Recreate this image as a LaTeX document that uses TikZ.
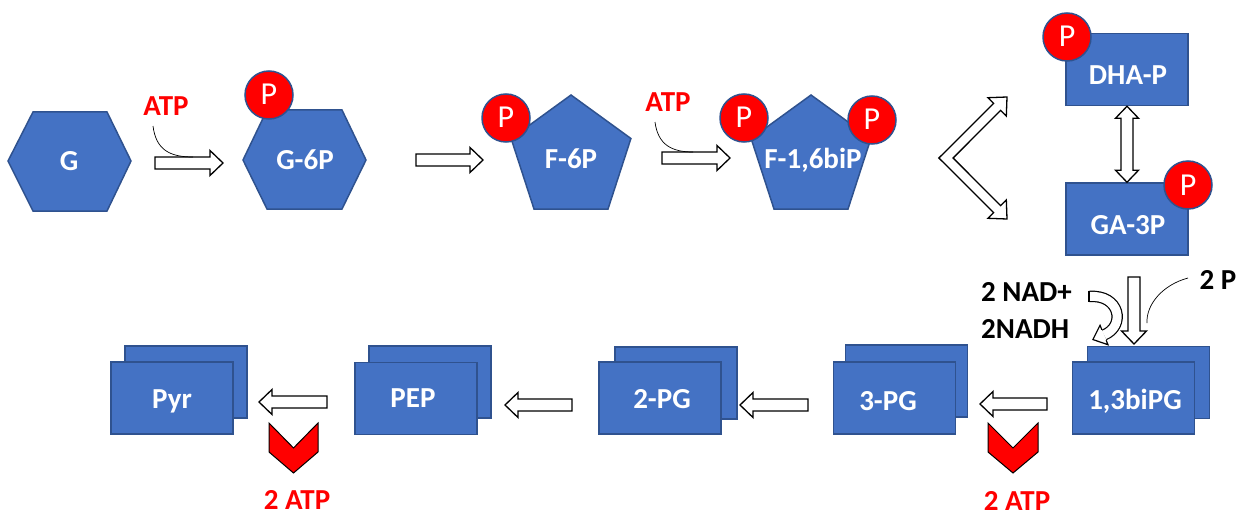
\documentclass[tikz,border=0pt]{standalone}
\usepackage{fontspec}
\setmainfont{Carlito}
\usetikzlibrary{calc,shapes.geometric}
\definecolor{molblue}{HTML}{4472C4}
\definecolor{moledge}{HTML}{2F528F}
\definecolor{pred}{HTML}{FF0000}
\newcommand{\blockarrow}[2]{%
  \coordinate (ba-c) at ($(#2)!13pt!(#1)$);
  \draw[barrow] ($(#1)!6pt!90:(#2)$) -- ($(ba-c)!6pt!90:(#2)$) -- ($(ba-c)!12.5pt!90:(#2)$) -- (#2)
    -- ($(ba-c)!12.5pt!-90:(#2)$) -- ($(ba-c)!6pt!-90:(#2)$) -- ($(#1)!6pt!-90:(#2)$) -- cycle;}
\newcommand{\dblarrow}[2]{%
  \coordinate (da-a) at ($(#1)!12pt!(#2)$);
  \coordinate (da-b) at ($(#2)!12pt!(#1)$);
  \draw[barrow] (#1) -- ($(da-a)!11.5pt!90:(#2)$) -- ($(da-a)!6pt!90:(#2)$) -- ($(da-b)!6pt!90:(#2)$)
    -- ($(da-b)!11.5pt!90:(#2)$) -- (#2) -- ($(da-b)!11.5pt!-90:(#2)$) -- ($(da-b)!6pt!-90:(#2)$)
    -- ($(da-a)!6pt!-90:(#2)$) -- ($(da-a)!11.5pt!-90:(#2)$) -- cycle;}
\begin{document}
\begin{tikzpicture}[x=1pt,y=-1pt,
  mol/.style={fill=molblue,draw=moledge,line width=1.5pt},
  lbl/.style={text=white,font=\fontsize{29}{35}\selectfont\bfseries,inner sep=0pt,text height=18.5pt,text depth=0pt},
  redlbl/.style={lbl,text=pred},
  blklbl/.style={lbl,text=black},
  box/.style={mol,rectangle,minimum width=122pt,minimum height=72pt,inner sep=0pt},
  phos/.style={circle,fill=pred,draw=moledge,line width=1.5pt,minimum size=48pt,inner sep=0pt,
    text=white,font=\fontsize{32}{38}\selectfont,text height=20pt,text depth=0pt},
  barrow/.style={draw=black,fill=white,line width=1.3pt,line join=miter},
  chev/.style={draw=black,fill=pred,line width=1pt,line join=miter},
  hair/.style={draw=black,line width=0.7pt}]
\useasboundingbox (0,0) rectangle (1244,516);

% ---- top row molecules
\draw[mol] (8,161) -- (33,112) -- (107,112) -- (131,161) -- (107,211) -- (33,211) -- cycle;
\node[lbl] (G) at (69,161) {G};
\draw[mol] (243,160) -- (267,110) -- (342,110) -- (366,160) -- (342,209) -- (267,209) -- cycle;
\node[lbl] (G6P) at (305,160.5) {G-6P};
\draw[mol] (571,95) -- (630.9,138.5) -- (608,209) -- (534,209) -- (511.1,138.5) -- cycle;
\node[lbl] (F6P) at (571,159) {F-6P};
\draw[mol] (811,95) -- (870.9,138.5) -- (848,209) -- (774,209) -- (751.1,138.5) -- cycle;
\node[lbl] (F16) at (813,159) {F-1,6biP};
\node[box] (DHA) at (1127,69.5) {};
\node[lbl] (DHAt) at (1128,75) {DHA-P};
\node[box] (GA) at (1127,219) {};
\node[lbl] (GAt) at (1128,225) {GA-3P};

% ---- phosphate circles
\node[phos] (P1) at (269,95) {P};
\node[phos] (P2) at (506,118) {P};
\node[phos] (P3) at (744,118) {P};
\node[phos] (P4) at (872,120) {P};
\node[phos] (P5) at (1067,37) {P};
\node[phos] (P6) at (1188,185) {P};

% ---- bottom row stacked boxes
\node[box] (Pyrb) at (186,382) {};
\node[box] (Pyr) at (172,398) {};
\node[lbl] (Pyrt) at (172,399) {Pyr};
\node[box] (PEPb) at (430,382) {};
\node[box] (PEP) at (416,398.5) {};
\node[lbl] (PEPt) at (413,398.5) {PEP};
\node[box] (PG2b) at (676,383) {};
\node[box] (PG2) at (660,398) {};
\node[lbl] (PG2t) at (662,399) {2-PG};
\node[box] (PG3b) at (906.5,381) {};
\node[box] (PG3) at (894.5,398) {};
\node[lbl] (PG3t) at (888,401.5) {3-PG};
\node[box] (BPGb) at (1148.5,382.5) {};
\node[box] (BPG) at (1133.5,398) {};
\node[lbl] (BPGt) at (1135,400) {1,3biPG};

% ---- straight block arrows
\coordinate (a1s) at (155,163);  \coordinate (a1e) at (223,163);
\coordinate (a2s) at (416,160);  \coordinate (a2e) at (483,160);
\coordinate (a3s) at (662,158);  \coordinate (a3e) at (730,158);
\coordinate (a4s) at (1047,404); \coordinate (a4e) at (980,404);
\coordinate (a5s) at (808,405);  \coordinate (a5e) at (740,405);
\coordinate (a6s) at (572,405);  \coordinate (a6e) at (505,405);
\coordinate (a7s) at (327,402);  \coordinate (a7e) at (259,402);
\coordinate (a8s) at (1134,277); \coordinate (a8e) at (1134,344);
\blockarrow{a1s}{a1e}
\blockarrow{a2s}{a2e}
\blockarrow{a3s}{a3e}
\blockarrow{a4s}{a4e}
\blockarrow{a5s}{a5e}
\blockarrow{a6s}{a6e}
\blockarrow{a7s}{a7e}
\blockarrow{a8s}{a8e}
\dblarrow{DHA.south}{GA.north}

% ---- split (bent) arrow
\draw[barrow] (938.9,158) -- (993.6,103.4) -- (987.9,97.7) -- (1007,97) -- (1006.3,116.1) -- (1000.6,110.4)
  -- (953.1,158) -- (1000.6,205.6) -- (1006.3,199.9) -- (1007,219) -- (987.9,218.3) -- (993.6,212.6) -- cycle;

% ---- curved NAD arrow
\coordinate (nadA) at (1089,296.5);
\coordinate (nadB) at (1104,335);
\draw[line width=1.2pt,double=white,double distance=9pt] (nadA) .. controls (1120,294) and (1126,326) .. (nadB);
\draw[line width=1.2pt] (1089,290.8) -- (1089,302.2);
\fill[white] (1107.98,344.72) -- (1092.89,339.55) -- (1100.02,325.28) -- cycle;
\draw[line width=1.2pt,line join=miter] (1106.16,340.28) -- (1107.98,344.72) -- (1092.89,339.55) -- (1100.02,325.28) -- (1101.84,329.72);

% ---- red chevrons
\draw[chev] (269,423) -- (269,452) -- (293.5,473) -- (318,452) -- (318,423) -- (293.5,448) -- cycle;
\draw[chev] (988,423) -- (988,452) -- (1013,473) -- (1038,452) -- (1038,423) -- (1013,448) -- cycle;

% ---- labels
\node[redlbl] (atp1) at (166,106) {ATP};
\node[redlbl] (atp2) at (668,102.5) {ATP};
\node[redlbl] (atp3) at (297,500) {2 ATP};
\node[redlbl] (atp4) at (1017,501) {2 ATP};
\node[blklbl,anchor=west] (nad) at (981,292.5) {2 NAD+};
\node[blklbl,anchor=west] (nadh) at (981,329.5) {2NADH};
\node[blklbl] (twoP) at (1218,280.5) {2 P};

% ---- thin lines
\coordinate (c1s) at (153,126); \coordinate (c1e) at (193,157);
\coordinate (c2s) at (655,122); \coordinate (c2e) at (693,152);
\coordinate (c3s) at (1188,278); \coordinate (c3e) at (1147,323);
\draw[hair] (c1s) .. controls (156,150) and (170,157) .. (c1e);
\draw[hair] (c2s) .. controls (658,145) and (672,152) .. (c2e);
\draw[hair] (c3s) .. controls (1162,285) and (1146,305) .. (c3e);
\end{tikzpicture}
\end{document}
